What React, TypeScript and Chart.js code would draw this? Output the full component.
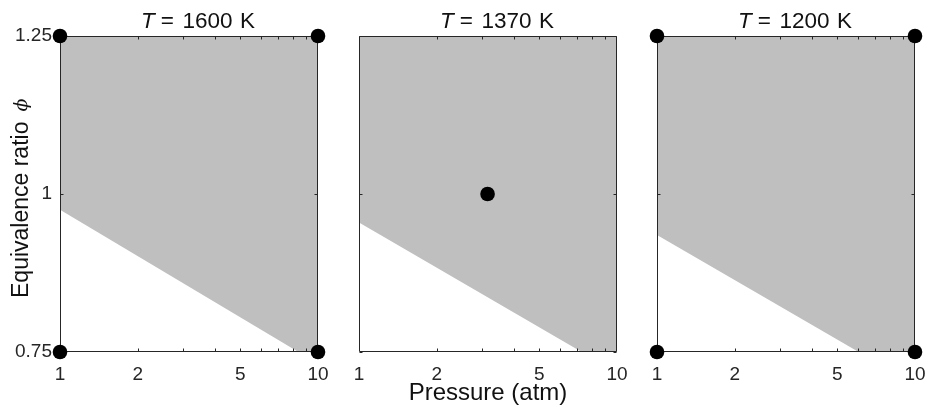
import React, { useEffect, useRef } from 'react';
import { Chart, registerables } from 'chart.js';

Chart.register(...registerables);

// ---- data ----
const temperatures = ['1600', '1370', '1200'];
const pressureTicks = [1, 2, 5, 10];
const pressureMinorTicks = [2, 3, 4, 5, 6, 7, 8, 9];
const phiTicks = [0.75, 1, 1.25];
const boundaryPhiAtP1 = [0.975, 0.955, 0.935];
const boundaryPAtPhiMin = [8.4, 7.3, 6.05];
const dotsP = [[1, 10, 1, 10], [3.15], [1, 10, 1, 10]];
const dotsPhi = [[1.25, 1.25, 0.75, 0.75], [1.0], [1.25, 1.25, 0.75, 0.75]];
const xTitle = 'Pressure (atm)';
const yTitle = 'Equivalence ratio';
const yTitleSymbol = '\u03D5';

// ---- layout / style ----
const W = 925;
const H = 410;
const TOP = 36;
const BOTTOM = 352;
const PANELS = [
  { left: 60, right: 318 },
  { left: 359, right: 617 },
  { left: 657, right: 915 },
];
const FONT = '"Liberation Sans", Arial, Helvetica, sans-serif';
const AX = '#262626';
const FILL = '#bfbfbf';

function makeDecor(i: number) {
  return {
    id: 'decor' + i,
    afterDatasetDraw(chart: any, args: any) {
      if (args.index !== 1) return;
      const { ctx, chartArea: a, scales } = chart;
      const l = Math.round(a.left) + 0.5;
      const r = Math.round(a.right) - 0.5;
      const t = Math.round(a.top) + 0.5;
      const b = Math.round(a.bottom) - 0.5;
      ctx.save();
      ctx.strokeStyle = AX;
      ctx.lineWidth = 1;
      ctx.beginPath();
      ctx.rect(l, t, r - l, b - t);
      pressureMinorTicks.forEach((v) => {
        const x = Math.round(scales.x.getPixelForValue(v)) + 0.5;
        ctx.moveTo(x, b);
        ctx.lineTo(x, b - 3);
        ctx.moveTo(x, t);
        ctx.lineTo(x, t + 3);
      });
      phiTicks.forEach((v) => {
        const y = Math.round(scales.y.getPixelForValue(v)) + 0.5;
        ctx.moveTo(l, y);
        ctx.lineTo(l + 3, y);
        ctx.moveTo(r, y);
        ctx.lineTo(r - 3, y);
      });
      ctx.stroke();
      ctx.restore();
    },
    afterDraw(chart: any) {
      const { ctx, chartArea: a } = chart;
      ctx.save();
      ctx.fillStyle = '#111';
      ctx.textAlign = 'left';
      ctx.textBaseline = 'alphabetic';
      // title: italic T, "=", value, "K"
      const normal = `22.5px ${FONT}`;
      const italic = `italic 22.5px ${FONT}`;
      const parts = [
        { s: 'T', f: italic, gap: 6 },
        { s: '=', f: normal, gap: 8.5 },
        { s: temperatures[i], f: normal, gap: 7.5 },
        { s: 'K', f: normal, gap: 0 },
      ];
      let total = 0;
      const widths = parts.map((p) => {
        ctx.font = p.f;
        const w = ctx.measureText(p.s).width;
        total += w + p.gap;
        return w;
      });
      let x = (a.left + a.right) / 2 + 9 - total / 2;
      parts.forEach((p, k) => {
        ctx.font = p.f;
        ctx.fillText(p.s, x, 28);
        x += widths[k] + p.gap;
      });
      // x title
      if (i === 1) {
        ctx.font = `24px ${FONT}`;
        ctx.textAlign = 'center';
        ctx.fillText(xTitle, (a.left + a.right) / 2, 400);
      }
      // y title
      if (i === 0) {
        ctx.translate(28, (a.top + a.bottom) / 2);
        ctx.rotate(-Math.PI / 2);
        ctx.font = `23px ${FONT}`;
        const w1 = ctx.measureText(yTitle).width;
        const s = (a.top + a.bottom) / 2 - 298;
        ctx.textAlign = 'left';
        ctx.fillText(yTitle, s, 0);
        ctx.font = `italic 19px "DejaVu Serif", serif`;
        ctx.fillText(yTitleSymbol, s + w1 + 10, -1);
      }
      ctx.restore();
    },
  };
}

function Panel({ i }: { i: number }) {
  const ref = useRef<HTMLCanvasElement>(null);
  useEffect(() => {
    const canvas = ref.current!;
    const p = PANELS[i];
    const boundary = [
      { x: 1, y: boundaryPhiAtP1[i] },
      { x: boundaryPAtPhiMin[i], y: 0.75 },
      { x: 10, y: 0.75 },
    ];
    const dots = dotsP[i].map((x, k) => ({ x, y: dotsPhi[i][k] }));
    const chart = new Chart(canvas, {
      type: 'scatter',
      data: {
        datasets: [
          {
            data: dots,
            showLine: false,
            pointRadius: 7.3,
            pointHoverRadius: 7.3,
            backgroundColor: '#000',
            borderColor: '#000',
            borderWidth: 0,
            clip: false,
          } as any,
          {
            data: boundary,
            showLine: true,
            fill: 'end',
            backgroundColor: FILL,
            borderColor: 'rgba(0,0,0,0)',
            borderWidth: 0,
            pointRadius: 0,
            tension: 0,
          } as any,
        ],
      },
      options: {
        responsive: false,
        animation: false,
        devicePixelRatio: 1,
        events: [],
        layout: {
          padding: { left: 0, right: W - p.right, top: TOP, bottom: 0 },
        },
        plugins: {
          legend: { display: false },
          tooltip: { enabled: false },
          title: { display: false },
        },
        scales: {
          x: {
            type: 'logarithmic',
            min: 1,
            max: 10,
            afterBuildTicks: (s: any) => {
              s.ticks = pressureTicks.map((v) => ({ value: v }));
            },
            afterFit: (s: any) => {
              s.height = H - BOTTOM;
              s.paddingLeft = 0;
              s.paddingRight = 0;
            },
            grid: { display: false },
            border: { display: false },
            ticks: {
              autoSkip: false,
              maxRotation: 0,
              minRotation: 0,
              color: AX,
              font: { size: 19, family: FONT },
              padding: 3,
              callback: (v: any) => String(v),
            },
          },
          y: {
            type: 'linear',
            min: 0.75,
            max: 1.25,
            afterBuildTicks: (s: any) => {
              s.ticks = phiTicks.map((v) => ({ value: v }));
            },
            afterFit: (s: any) => {
              s.width = p.left;
              s.paddingTop = 0;
              s.paddingBottom = 0;
            },
            grid: { display: false },
            border: { display: false },
            ticks: {
              display: i === 0,
              color: AX,
              font: { size: 19, family: FONT },
              padding: 0,
              callback: (v: any) => String(v),
            },
          },
        },
      } as any,
      plugins: [makeDecor(i)],
    });
    return () => chart.destroy();
  }, [i]);
  return (
    <canvas
      ref={ref}
      width={W}
      height={H}
      style={{ position: 'absolute', left: 0, top: 0, width: W, height: H }}
    />
  );
}

export default function App() {
  return (
    <div style={{ position: 'absolute', left: 0, top: 0, width: W, height: H, background: '#fff' }}>
      {[0, 1, 2].map((i) => (
        <Panel key={i} i={i} />
      ))}
    </div>
  );
}
